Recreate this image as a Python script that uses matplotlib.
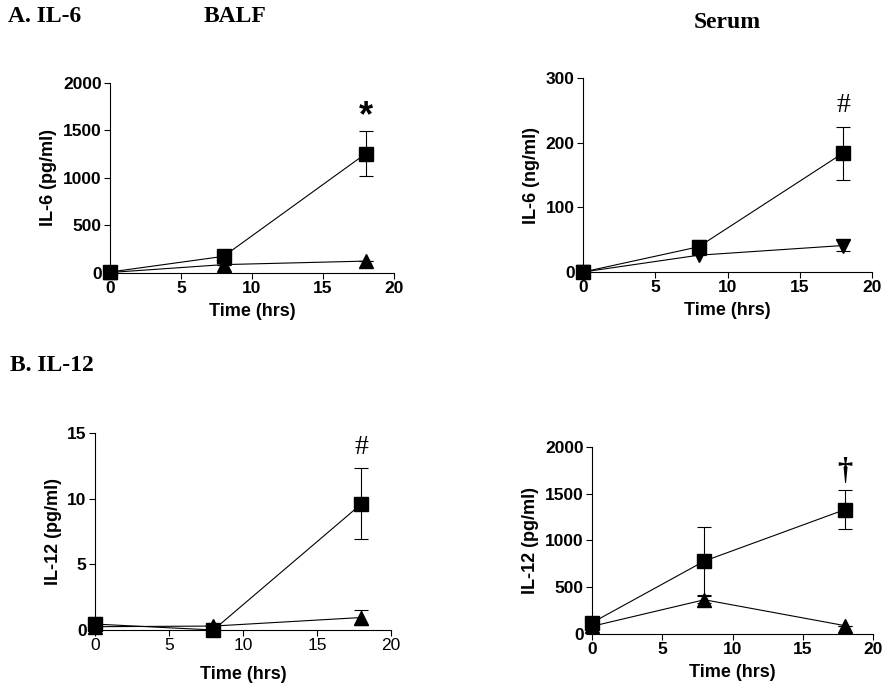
import matplotlib
matplotlib.use('Agg')
import matplotlib.pyplot as plt

plt.rcParams['font.family'] = ['Liberation Sans', 'DejaVu Sans']

# time points (hrs)
t = [0, 8, 18]

# A. IL-6, BALF (pg/ml)
balf_il6_sq = [10, 175, 1255]
balf_il6_sq_err = [0, 70, 235]
balf_il6_tri = [5, 88, 125]
balf_il6_tri_err = [0, 0, 0]

# A. IL-6, Serum (ng/ml)
ser_il6_sq = [0, 39, 184]
ser_il6_sq_err = [0, 11, 41]
ser_il6_tri = [0, 26, 41]
ser_il6_tri_err = [0, 0, 8]

# B. IL-12, BALF (pg/ml)
balf_il12_sq = [0.45, 0.0, 9.6]
balf_il12_sq_err = [0.55, 0, 2.7]
balf_il12_tri = [0.25, 0.3, 0.95]
balf_il12_tri_err = [0, 0, 0.6]

# B. IL-12, Serum (pg/ml)
ser_il12_sq = [120, 780, 1330]
ser_il12_sq_err = [0, 365, 210]
ser_il12_tri = [82, 366, 89]
ser_il12_tri_err = [0, 40, 0]

xticks = [0, 5, 10, 15, 20]

fig = plt.figure(figsize=(8.82, 6.85), dpi=100)

def panel(rect, sq, sq_err, tri, tri_err, tri_marker, ylim, yticks, ylabel,
          mark, mark_y, mark_kw, xbold=True, xpad=5):
    ax = fig.add_axes(rect)
    for y, e, m, ms in [(tri, tri_err, tri_marker, 9.5), (sq, sq_err, 's', 9.5)]:
        ax.errorbar(t, y, yerr=e, color='black', marker=m, markersize=ms,
                    linewidth=0.8, elinewidth=0.8, capsize=5, capthick=0.8,
                    clip_on=False, zorder=3)
    ax.set_xlim(0, 20)
    ax.set_ylim(*ylim)
    ax.set_xticks(xticks)
    ax.set_yticks(yticks)
    for s in ['top', 'right']:
        ax.spines[s].set_visible(False)
    ax.spines['left'].set_linewidth(0.8)
    ax.spines['bottom'].set_linewidth(0.8)
    ax.tick_params(direction='out', length=4, width=0.8, labelsize=12.5, pad=2)
    for lab in ax.get_yticklabels():
        lab.set_fontweight('bold')
    for lab in ax.get_xticklabels():
        lab.set_fontweight('bold' if xbold else 'normal')
    ax.set_xlabel('Time (hrs)', fontsize=13, fontweight='bold', labelpad=xpad)
    ax.set_ylabel(ylabel, fontsize=13, fontweight='bold', labelpad=4)
    ax.text(18, mark_y, mark, ha='center', va='center', **mark_kw)
    return ax

serif = {'family': 'Liberation Serif'}

panel([0.1247, 0.6015, 0.322, 0.2774], balf_il6_sq, balf_il6_sq_err,
      balf_il6_tri, balf_il6_tri_err, '^', (0, 2000), [0, 500, 1000, 1500, 2000],
      'IL-6 (pg/ml)', '*', 1640, dict(fontsize=26, fontweight='bold'))

panel([0.661, 0.6029, 0.3277, 0.2832], ser_il6_sq, ser_il6_sq_err,
      ser_il6_tri, ser_il6_tri_err, 'v', (0, 300), [0, 100, 200, 300],
      'IL-6 (ng/ml)', '#', 258, dict(fontsize=20, **serif))

panel([0.1077, 0.0803, 0.3356, 0.2876], balf_il12_sq, balf_il12_sq_err,
      balf_il12_tri, balf_il12_tri_err, '^', (0, 15), [0, 5, 10, 15],
      'IL-12 (pg/ml)', '#', 13.9, dict(fontsize=20, **serif), xbold=False, xpad=9)

panel([0.6712, 0.0745, 0.3186, 0.2730], ser_il12_sq, ser_il12_sq_err,
      ser_il12_tri, ser_il12_tri_err, '^', (0, 2000), [0, 500, 1000, 1500, 2000],
      'IL-12 (pg/ml)', '\u2020', 1740, dict(fontsize=22, fontweight='bold', **serif),
      xpad=5)

# panel headings
fig.text(8 / 882, 1 - 17 / 685, 'A. IL-6', fontsize=17, fontweight='bold',
         va='center', ha='left', **serif)
fig.text(235 / 882, 1 - 17 / 685, 'BALF', fontsize=17, fontweight='bold',
         va='center', ha='center', **serif)
fig.text(727 / 882, 1 - 22 / 685, 'Serum', fontsize=17, fontweight='bold',
         va='center', ha='center', **serif)
fig.text(10 / 882, 1 - 366 / 685, 'B. IL-12', fontsize=17, fontweight='bold',
         va='center', ha='left', **serif)

plt.savefig('out.png', dpi=100)
